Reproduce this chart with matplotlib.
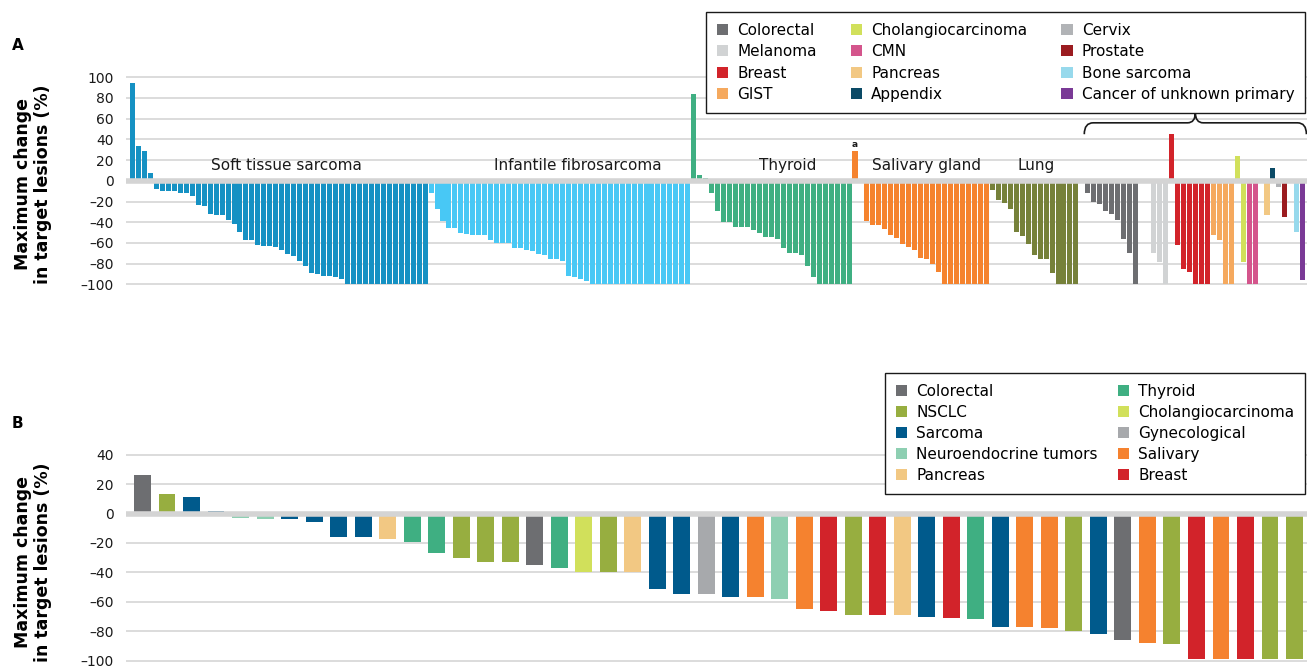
import matplotlib
matplotlib.use("Agg")
import matplotlib.pyplot as plt
from matplotlib.patches import Patch, PathPatch
from matplotlib.path import Path

plt.rcParams['font.family'] = ['DejaVu Sans']

# ---- panel A data (maximum change per patient, grouped by tumour type) ----
soft_tissue = [94, 34, 29, 8, -8, -10, -10, -10, -12, -12, -15, -23, -24, -32, -33, -33,
               -38, -42, -49, -57, -57, -62, -63, -63, -64, -67, -71, -73, -77, -82, -89,
               -90, -92, -92, -93, -95, -100, -100, -100, -100, -100, -100, -100, -100,
               -100, -100, -100, -100, -100, -100]
infantile = [-12, -27, -39, -46, -46, -50, -51, -52, -52, -52, -57, -60, -60, -60, -65, -65,
             -67, -68, -71, -72, -76, -76, -77, -92, -93, -95, -97, -100, -100, -100, -100,
             -100, -100, -100, -100, -100, -100, -100, -100, -100, -100, -100, -100, -100]
thyroid = [84, 6, 3, -12, -29, -40, -40, -45, -45, -45, -48, -50, -54, -54, -56, -65, -70,
           -70, -72, -82, -93, -100, -100, -100, -100, -100, -100]
salivary_a = [29]
salivary = [-39, -43, -43, -47, -52, -55, -61, -64, -67, -75, -76, -80, -88, -100, -100,
            -100, -100, -100, -100, -100, -100]
lung = [-9, -19, -21, -27, -49, -53, -61, -72, -76, -76, -89, -100, -100, -100, -100]
colorectal = [-12, -20, -22, -29, -32, -38, -56, -70, -100]
melanoma = [-70, -78, -100]
breast = [45, -62, -85, -88, -100, -100, -100]
gist = [-52, -57, -100, -100]
cholangio = [24, -78]
cmn = [-100, -100]
pancreas = [-33]
appendix = [12]
cervix = [-6]
prostate = [-35]
bone_sarcoma = [-49]
cup = [-96]

a_names = ["Soft tissue sarcoma", "Infantile fibrosarcoma", "Thyroid", "Salivary a",
           "Salivary gland", "Lung", "Colorectal", "Melanoma", "Breast", "GIST",
           "Cholangiocarcinoma", "CMN", "Pancreas", "Appendix", "Cervix", "Prostate",
           "Bone sarcoma", "Cancer of unknown primary"]
a_series = [soft_tissue, infantile, thyroid, salivary_a, salivary, lung, colorectal,
            melanoma, breast, gist, cholangio, cmn, pancreas, appendix, cervix, prostate,
            bone_sarcoma, cup]
a_gaps = [0, 0, 0, 0, 1, 0, 1, 2, 0, 0, 0, 0, 1, 0, 0, 0, 1, 0]
a_labelled = ["Soft tissue sarcoma", "Infantile fibrosarcoma", "Thyroid", "Salivary gland", "Lung"]
a_label_shift = [1.2, 3.0, 2.8, 0, 0.3]

colors_a = {
    "Soft tissue sarcoma": "#1591c3", "Infantile fibrosarcoma": "#48c8f5",
    "Thyroid": "#3faf82", "Salivary a": "#f5832e", "Salivary gland": "#f5832e",
    "Lung": "#76813a", "Colorectal": "#6d6e71", "Melanoma": "#d1d3d4",
    "Breast": "#d2232a", "GIST": "#f5a95e", "Cholangiocarcinoma": "#d1e05b",
    "CMN": "#d4558c", "Pancreas": "#f2c883", "Appendix": "#0b4a66",
    "Cervix": "#b1b3b6", "Prostate": "#9b1c20", "Bone sarcoma": "#97d9ec",
    "Cancer of unknown primary": "#7a3a96",
}
legend_a = ["Colorectal", "Melanoma", "Breast", "GIST", "Cholangiocarcinoma", "CMN",
            "Pancreas", "Appendix", "Cervix", "Prostate", "Bone sarcoma",
            "Cancer of unknown primary"]

# ---- panel B data ----
b_types = ["Colorectal", "NSCLC", "Sarcoma", "Sarcoma", "Neuroendocrine tumors",
           "Neuroendocrine tumors", "Sarcoma", "Sarcoma", "Sarcoma", "Sarcoma", "Pancreas",
           "Thyroid", "Thyroid", "NSCLC", "NSCLC", "NSCLC", "Colorectal", "Thyroid",
           "Cholangiocarcinoma", "NSCLC", "Pancreas", "Sarcoma", "Sarcoma", "Gynecological",
           "Sarcoma", "Salivary", "Neuroendocrine tumors", "Salivary", "Breast", "NSCLC",
           "Breast", "Pancreas", "Sarcoma", "Breast", "Thyroid", "Sarcoma", "Salivary",
           "Salivary", "NSCLC", "Sarcoma", "Colorectal", "Salivary", "NSCLC", "Breast",
           "Salivary", "Breast", "NSCLC", "NSCLC"]
b_values = [26, 13, 11, 2, -3, -4, -4, -6, -16, -16, -17, -19, -27, -30, -33, -33, -35, -37,
            -40, -40, -40, -51, -55, -55, -57, -57, -58, -65, -66, -69, -69, -69, -70, -71,
            -72, -77, -77, -78, -80, -82, -86, -88, -89, -99, -99, -99, -99, -99]
colors_b = {
    "Colorectal": "#6d6e71", "NSCLC": "#97ae40", "Sarcoma": "#005a8c",
    "Neuroendocrine tumors": "#8ecfb2", "Pancreas": "#f2c883", "Thyroid": "#3faf82",
    "Cholangiocarcinoma": "#d1e05b", "Gynecological": "#a7a9ac", "Salivary": "#f5822f",
    "Breast": "#d2232a",
}
legend_b = ["Colorectal", "NSCLC", "Sarcoma", "Neuroendocrine tumors", "Pancreas",
            "Thyroid", "Cholangiocarcinoma", "Gynecological", "Salivary", "Breast"]

W, H = 1307, 668
fig = plt.figure(figsize=(W / 100, H / 100), dpi=100)


def style_axis(ax, ticks):
    ax.set_yticks(ticks)
    ax.set_yticklabels([str(t).replace('-', '\u2013') for t in ticks])
    ax.set_xticks([])
    for s in ax.spines.values():
        s.set_visible(False)
    ax.tick_params(axis='y', length=0, pad=9, labelsize=10, labelcolor='#1a1a1a')
    ax.grid(axis='y', color='#dcdcdc', lw=1.4)
    ax.set_axisbelow(True)
    ax.axhline(0, color='#d4d4d4', lw=4, zorder=3)


# ---- panel A ----
axA = fig.add_axes([126 / W, 1 - 286.4 / H, 1 - 126 / W, (286.4 - 75.2) / H])
pos = 0
spans = {}
for name, vals, gap in zip(a_names, a_series, a_gaps):
    pos += gap
    xs = list(range(pos, pos + len(vals)))
    axA.bar(xs, vals, width=0.84, color=colors_a[name], zorder=2)
    spans[name] = (xs[0], xs[-1])
    pos += len(vals)
axA.set_xlim(-1.09, 196.7)
axA.set_ylim(-102, 102)
style_axis(axA, list(range(-100, 101, 20)))

for name, dx in zip(a_labelled, a_label_shift):
    x0, x1 = spans[name]
    axA.text((x0 + x1) / 2 + dx, 10.5, name, ha='center', va='baseline',
             fontsize=11, color='#1a1a1a', zorder=4)
xa = spans["Salivary a"][0]
axA.text(xa, salivary_a[0] + 2, "a", ha='center', va='bottom', fontsize=6.5,
         fontweight='bold', color='#1a1a1a')

# brace over the "other tumours" block
bl = spans["Colorectal"][0] - 0.6
br = spans["Cancer of unknown primary"][1] + 0.6
bm = (bl + br) / 2
y0, y1, y2 = 45, 56, 66
verts = [(bl, y0), (bl, y1), (bl + 1.5, y1), (bm - 1.3, y1), (bm, y1), (bm, y2),
         (bm, y1), (bm + 1.3, y1), (br - 1.5, y1), (br, y1), (br, y0)]
codes = [Path.MOVETO, Path.CURVE3, Path.CURVE3, Path.LINETO, Path.CURVE3, Path.CURVE3,
         Path.CURVE3, Path.CURVE3, Path.LINETO, Path.CURVE3, Path.CURVE3]
axA.add_patch(PathPatch(Path(verts, codes), fill=False, lw=1.2, edgecolor='#1a1a1a',
                        clip_on=False))

hA = [Patch(facecolor=colors_a[n], edgecolor='none') for n in legend_a]
legA = fig.legend(hA, legend_a, ncol=3, loc='upper right',
                  bbox_to_anchor=(1305 / W, 1 - 12 / H), borderaxespad=0,
                  fontsize=11, handlelength=0.75, handleheight=0.75, handletextpad=0.6,
                  columnspacing=2.2, labelspacing=0.42, borderpad=0.7,
                  fancybox=False, edgecolor='#1a1a1a', framealpha=1)
legA.get_frame().set_linewidth(1.0)

# ---- panel B ----
axB = fig.add_axes([126 / W, 1 - 663.6 / H, 1 - 126 / W, (663.6 - 451.8) / H])
xb = list(range(len(b_values)))
axB.bar(xb, b_values, width=0.69, color=[colors_b[t] for t in b_types], zorder=2)
axB.set_xlim(-0.673, 47.51)
axB.set_ylim(-102, 42)
style_axis(axB, list(range(-100, 41, 20)))

hB = [Patch(facecolor=colors_b[n], edgecolor='none') for n in legend_b]
legB = fig.legend(hB, legend_b, ncol=2, loc='upper right',
                  bbox_to_anchor=(1305 / W, 1 - 373 / H), borderaxespad=0,
                  fontsize=11, handlelength=0.75, handleheight=0.75, handletextpad=0.6,
                  columnspacing=1.3, labelspacing=0.4, borderpad=0.7,
                  fancybox=False, edgecolor='#1a1a1a', framealpha=1)
legB.get_frame().set_linewidth(1.0)

# ---- shared labels ----
ylab = "Maximum change\nin target lesions (%)"
fig.text(33 / W, 1 - 184 / H, ylab, rotation=90, ha='center', va='center',
         multialignment='center', fontsize=12.5, fontweight='bold', linespacing=1.15)
fig.text(33 / W, 1 - 562 / H, ylab, rotation=90, ha='center', va='center',
         multialignment='center', fontsize=12.5, fontweight='bold', linespacing=1.15)
fig.text(12 / W, 1 - 45 / H, "A", fontsize=11, fontweight='bold', va='center')
fig.text(12 / W, 1 - 423 / H, "B", fontsize=11, fontweight='bold', va='center')

fig.savefig("out.png", dpi=100)
